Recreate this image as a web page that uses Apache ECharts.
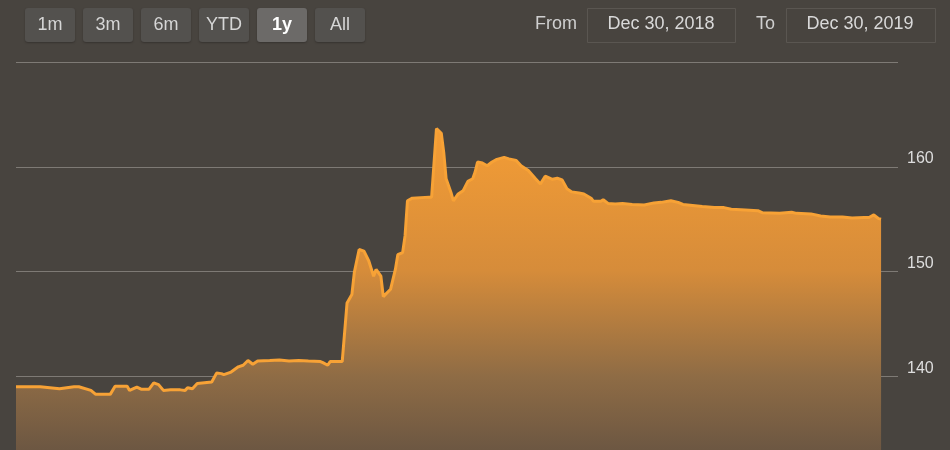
<!DOCTYPE html>
<html>
<head>
<meta charset="utf-8">
<script src="https://cdn.jsdelivr.net/npm/echarts@6/dist/echarts.min.js"></script>
<style>
html,body{margin:0;padding:0;background:#48443f;overflow:hidden;height:450px;}
#chart{width:950px;height:481px;}
</style>
</head>
<body>
<div id="chart"></div>
<script>
// ---- data ----
const dates = [
 '2018-12-30','2019-01-09','2019-01-17','2019-01-23','2019-01-25','2019-01-30','2019-02-01','2019-02-07','2019-02-09',
 '2019-02-14','2019-02-15','2019-02-18','2019-02-20','2019-02-23','2019-02-25','2019-02-27','2019-03-01','2019-03-04',
 '2019-03-08','2019-03-10','2019-03-11','2019-03-13','2019-03-15','2019-03-21','2019-03-23','2019-03-25','2019-03-26',
 '2019-03-29','2019-04-01','2019-04-03','2019-04-05','2019-04-07','2019-04-09','2019-04-14','2019-04-18','2019-04-22',
 '2019-04-26','2019-04-30','2019-05-05','2019-05-06','2019-05-08','2019-05-09','2019-05-14','2019-05-16','2019-05-18',
 '2019-05-19','2019-05-21','2019-05-23','2019-05-25','2019-05-27','2019-05-28','2019-05-30','2019-05-31','2019-06-03',
 '2019-06-05','2019-06-06','2019-06-08','2019-06-09','2019-06-10','2019-06-12','2019-06-19','2019-06-20','2019-06-22',
 '2019-06-24','2019-06-25','2019-06-26','2019-06-28','2019-06-29','2019-07-01','2019-07-03','2019-07-05','2019-07-07',
 '2019-07-08','2019-07-09','2019-07-11','2019-07-13','2019-07-15','2019-07-17','2019-07-20','2019-07-22','2019-07-25',
 '2019-07-27','2019-07-30','2019-08-02','2019-08-04','2019-08-06','2019-08-09','2019-08-11','2019-08-13','2019-08-15',
 '2019-08-17','2019-08-20','2019-08-22','2019-08-25','2019-08-26','2019-08-29','2019-08-30','2019-09-01','2019-09-04',
 '2019-09-07','2019-09-11','2019-09-16','2019-09-20','2019-09-23','2019-09-27','2019-09-30','2019-10-02','2019-10-06',
 '2019-10-10','2019-10-15','2019-10-19','2019-10-22','2019-10-26','2019-11-02','2019-11-04','2019-11-11','2019-11-16',
 '2019-11-18','2019-11-24','2019-11-28','2019-12-02','2019-12-07','2019-12-11','2019-12-16','2019-12-18','2019-12-20',
 '2019-12-22','2019-12-23'
];
const prices = [
 139.0,139.0,138.8,139.0,139.0,138.65,138.27,138.27,139.04,
 139.04,138.65,138.97,138.75,138.75,139.36,139.2,138.65,138.7,
 138.7,138.65,138.9,138.8,139.3,139.45,140.3,140.25,140.15,
 140.4,140.9,141.05,141.5,141.15,141.45,141.5,141.55,141.45,
 141.5,141.45,141.4,141.3,141.05,141.4,141.4,147.0,147.8,
 149.9,152.1,151.95,151.0,149.55,150.2,149.55,147.6,148.3,
 150.2,151.6,151.8,153.4,156.75,157.0,157.1,157.1,163.65,
 163.2,161.4,158.85,157.55,156.75,157.4,157.7,158.6,158.85,
 159.5,160.45,160.35,160.1,160.45,160.7,160.9,160.75,160.6,
 160.1,159.65,158.85,158.35,159.1,158.8,158.9,158.75,157.9,
 157.6,157.5,157.4,157.0,156.7,156.7,156.85,156.5,156.45,
 156.5,156.4,156.35,156.55,156.6,156.75,156.6,156.4,156.3,
 156.2,156.1,156.1,155.95,155.9,155.8,155.6,155.55,155.65,
 155.55,155.5,155.3,155.2,155.2,155.1,155.15,155.15,155.4,
 155.05,155.0
];
const rangeButtons = ['1m','3m','6m','YTD','1y','All'];
const selectedButton = '1y';
const fromDate = 'Dec 30, 2018';
const toDate = 'Dec 30, 2019';
const yTicks = [130, 140, 150, 160, 170];

// ---- chart ----
const toMs = s => new Date(s + 'T00:00:00Z').getTime();
const seriesData = dates.map((d, i) => [toMs(d), prices[i]]);
const FONT = '"Liberation Sans", Arial, sans-serif';

const graphics = [];
rangeButtons.forEach((b, i) => {
  const x = 25 + i * 58;
  const sel = b === selectedButton;
  graphics.push({
    type: 'rect', left: x, top: 8,
    shape: { width: 50, height: 34, r: 3 },
    style: { fill: sel ? '#6c6a68' : '#53514e', shadowBlur: 2, shadowColor: 'rgba(0,0,0,0.25)', shadowOffsetY: 1 }
  });
  graphics.push({
    type: 'text', x: x + 25, y: 25,
    style: { text: b, fill: sel ? '#ffffff' : '#d6d6d6', font: (sel ? 'bold ' : '') + '18px ' + FONT, align: 'center', verticalAlign: 'middle' }
  });
});
graphics.push({ type: 'text', x: 577, y: 24, style: { text: 'From', fill: '#cfcfcf', font: '18px ' + FONT, align: 'right', verticalAlign: 'middle' } });
graphics.push({ type: 'rect', left: 587, top: 8, shape: { width: 148, height: 34 }, style: { fill: '#48443f', stroke: '#5a5651', lineWidth: 1 } });
graphics.push({ type: 'text', x: 661, y: 24, style: { text: fromDate, fill: '#d9d9d9', font: '18px ' + FONT, align: 'center', verticalAlign: 'middle' } });
graphics.push({ type: 'text', x: 775, y: 24, style: { text: 'To', fill: '#cfcfcf', font: '18px ' + FONT, align: 'right', verticalAlign: 'middle' } });
graphics.push({ type: 'rect', left: 786, top: 8, shape: { width: 149, height: 34 }, style: { fill: '#48443f', stroke: '#5a5651', lineWidth: 1 } });
graphics.push({ type: 'text', x: 860, y: 24, style: { text: toDate, fill: '#d9d9d9', font: '18px ' + FONT, align: 'center', verticalAlign: 'middle' } });

const chart = echarts.init(document.getElementById('chart'), null, { renderer: 'canvas' });
chart.setOption({
  backgroundColor: '#48443f',
  animation: false,
  grid: { left: 16, right: 52, top: 62, bottom: 0, containLabel: false },
  xAxis: {
    type: 'time',
    min: toMs('2018-12-30'),
    max: toMs('2019-12-30'),
    show: false
  },
  yAxis: {
    type: 'value',
    position: 'right',
    min: yTicks[0],
    max: yTicks[yTicks.length - 1],
    interval: 10,
    axisLine: { show: false },
    axisTick: { show: false },
    splitLine: { lineStyle: { color: '#7e7a75', width: 1 } },
    axisLabel: {
      color: '#dedede', fontSize: 16, fontFamily: FONT, margin: 9,
      verticalAlign: 'bottom', padding: [0, 0, 0, 0],
      formatter: v => (v === yTicks[yTicks.length - 1] || v === yTicks[0] ? '' : String(v))
    }
  },
  series: [{
    type: 'line',
    data: seriesData,
    showSymbol: false,
    lineStyle: { color: '#f7a236', width: 3 },
    areaStyle: {
      color: new echarts.graphic.LinearGradient(0, 130, 0, 481, [
        { offset: 0, color: '#f49d35' },
        { offset: 0.4, color: '#d68c3a' },
        { offset: 0.7, color: '#8f6c45' },
        { offset: 1, color: '#5e4e41' }
      ], true),
      opacity: 1
    }
  }],
  graphic: graphics
});
</script>
</body>
</html>
